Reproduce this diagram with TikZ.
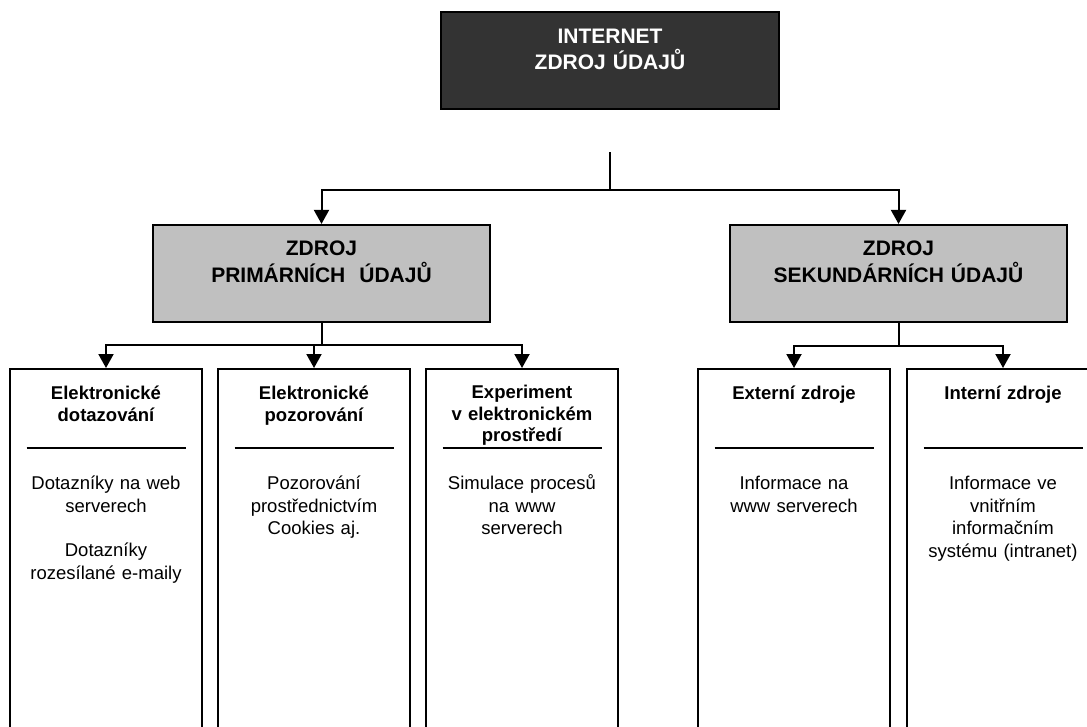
\documentclass[tikz,border=0pt]{standalone}
\usepackage{fontspec}
\setmainfont{Liberation Sans}
\usetikzlibrary{arrows.meta}
\definecolor{darkfill}{HTML}{333333}
\definecolor{greyfill}{HTML}{C0C0C0}
\begin{document}
\begin{tikzpicture}[x=1pt,y=-1pt,
  conn/.style={line width=2pt},
  arr/.style={conn,-{Triangle[width=15pt,length=14pt]}},
  topbox/.style={draw=black,fill=darkfill,line width=2.2pt,inner sep=0pt,minimum width=338pt,minimum height=97pt},
  srcbox/.style={draw=black,fill=greyfill,line width=2.2pt,inner sep=0pt,minimum width=337pt,minimum height=97pt},
  leafbox/.style={draw=black,line width=2pt,inner sep=0pt,minimum width=192pt,minimum height=420pt},
  toptext/.style={anchor=base,inner sep=0pt,text width=330pt,align=center,text=white,font=\fontsize{21}{26}\selectfont\bfseries},
  srctext/.style={anchor=base,inner sep=0pt,text width=330pt,align=center,font=\fontsize{21}{27}\selectfont\bfseries},
  headtext/.style={anchor=base,inner sep=0pt,text width=185pt,align=center,font=\fontsize{18.5}{21.5}\selectfont\bfseries},
  bodytext/.style={anchor=base,inner sep=0pt,text width=185pt,align=center,font=\fontsize{18.5}{22.5}\selectfont},
  rule/.style={line width=2pt}]
\useasboundingbox (0,0) rectangle (1087,726);
\clip (0,0) rectangle (1087,726);

% root
\node[topbox] (net) at (610,60.5) {};
\node[toptext] (nettxt) at (610,43.5) {INTERNET\\ZDROJ ÚDAJŮ};

% second level
\node[srcbox] (prim) at (321.5,273.5) {};
\node[srctext] (primtxt) at (321.5,255.5) {ZDROJ\\PRIMÁRNÍCH\ \ ÚDAJŮ};
\node[srcbox] (sek) at (898.5,273.5) {};
\node[srctext] (sektxt) at (898.5,255.5) {ZDROJ\\SEKUNDÁRNÍCH ÚDAJŮ};

% leaves (open towards the bottom edge)
\node[leafbox] (b1) at (106,579) {};
\node[leafbox] (b2) at (314,579) {};
\node[leafbox] (b3) at (522,579) {};
\node[leafbox] (b4) at (794,579) {};
\node[leafbox] (b5) at (1003,579) {};

% connectors
\coordinate (stem) at (610,152);
\coordinate (hub) at (610,190);
\draw[conn] (stem) -- (hub);
\draw[arr] (hub) -| (prim.north);
\draw[arr] (hub) -| (sek.north);

\draw[conn] (prim.south) -- ++(0,22) coordinate (pj);
\draw[arr] (pj) -| (b1.north);
\draw[arr] (pj) -| (b2.north);
\draw[arr] (pj) -| (b3.north);

\draw[conn] (sek.south) -- ++(0,23) coordinate (sj);
\draw[arr] (sj) -| (b4.north);
\draw[arr] (sj) -| (b5.north);

% leaf contents
\node[headtext] (h1) at (106,399.5) {Elektronické\\dotazování};
\node[headtext] (h2) at (314,399.5) {Elektronické\\pozorování};
\node[headtext] (h3) at (522,398.5) {Experiment\\v elektronickém\\prostředí};
\node[headtext] (h4) at (794,399.5) {Externí zdroje};
\node[headtext] (h5) at (1003,399.5) {Interní zdroje};

\foreach \c in {106,314,522,794,1003}
  \draw[rule] (\c-79.5,448) -- (\c+79.5,448);

\node[bodytext] (t1) at (106,489.5) {Dotazníky na web\\serverech\\[22pt]Dotazníky\\rozesílané e-maily};
\node[bodytext] (t2) at (314,489.5) {Pozorování\\prostřednictvím\\Cookies aj.};
\node[bodytext] (t3) at (522,489.5) {Simulace procesů\\na www\\serverech};
\node[bodytext] (t4) at (794,489.5) {Informace na\\www serverech};
\node[bodytext] (t5) at (1003,489.5) {Informace ve\\vnitřním\\informačním\\systému (intranet)};
\end{tikzpicture}
\end{document}
